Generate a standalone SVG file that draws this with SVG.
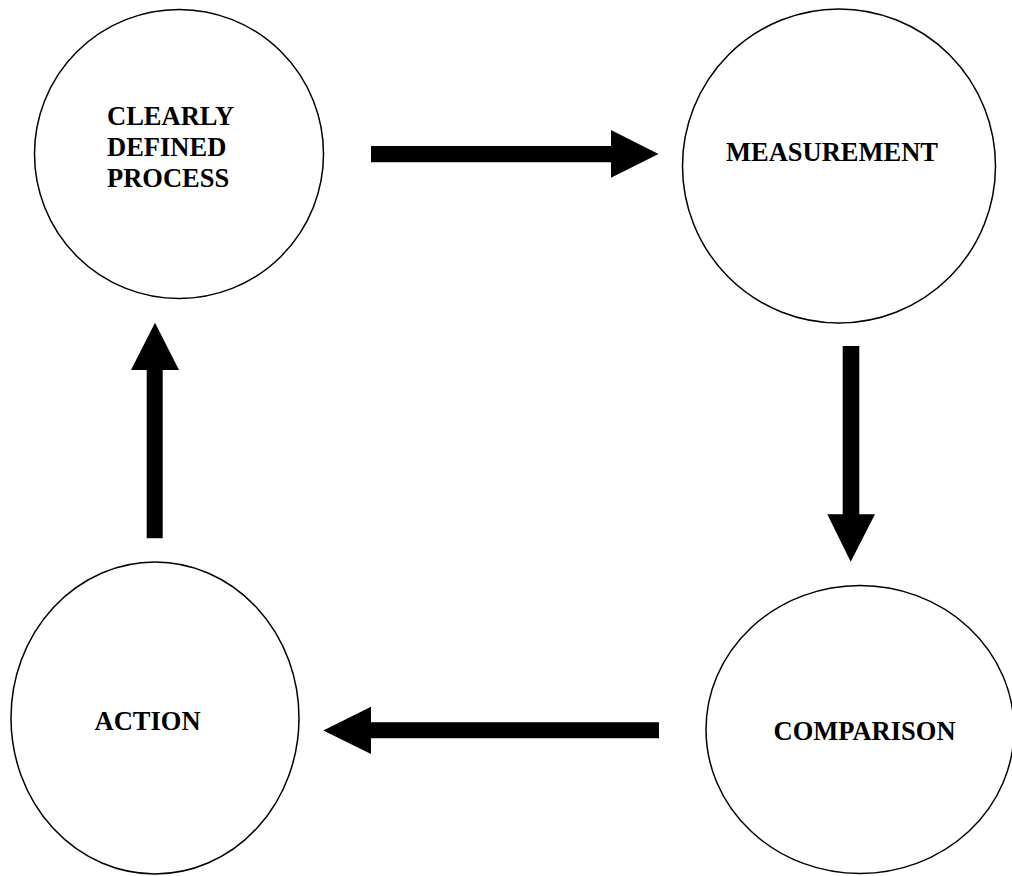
<svg xmlns="http://www.w3.org/2000/svg" width="1012" height="876" viewBox="0 0 1012 876">
<style>
.node{fill:#fff;stroke:#000;stroke-width:1.5}
.lbl{font-family:"Liberation Serif","Times New Roman",serif;font-weight:bold;font-size:26.5px;fill:#000}
.arrow{fill:#000;stroke:none}
</style>
<rect width="1012" height="876" fill="#fff"/>
<g id="node-process">
<ellipse class="node" cx="179" cy="154" rx="144.5" ry="144.5"/>
<text class="lbl" x="107" y="125">CLEARLY</text>
<text class="lbl" x="107" y="156">DEFINED</text>
<text class="lbl" x="107" y="187">PROCESS</text>
</g>
<g id="node-measurement">
<ellipse class="node" cx="839" cy="166" rx="156.5" ry="157"/>
<text class="lbl" x="726" y="161">MEASUREMENT</text>
</g>
<g id="node-action">
<ellipse class="node" cx="155" cy="718" rx="144" ry="156"/>
<text class="lbl" x="94.5" y="730">ACTION</text>
</g>
<g id="node-comparison">
<ellipse class="node" cx="860" cy="729.5" rx="154" ry="144"/>
<text class="lbl" x="773.5" y="740">COMPARISON</text>
</g>
<g id="connectors">
<polygon class="arrow" points="371,146 611,146 611,130 658.5,154 611,177.7 611,162.3 371,162.3"/>
<polygon class="arrow" points="842.7,346 859.3,346 859.3,514.3 875,514.3 850.7,561.7 827.3,514.3 842.7,514.3"/>
<polygon class="arrow" points="659,722.3 659,738.3 371,738.3 371,754 323.3,730.5 371,706.7 371,722.3"/>
<polygon class="arrow" points="146.7,538.3 146.7,370 131,370 155,322.7 179,370 162.7,370 162.7,538.3"/>
</g>
</svg>
